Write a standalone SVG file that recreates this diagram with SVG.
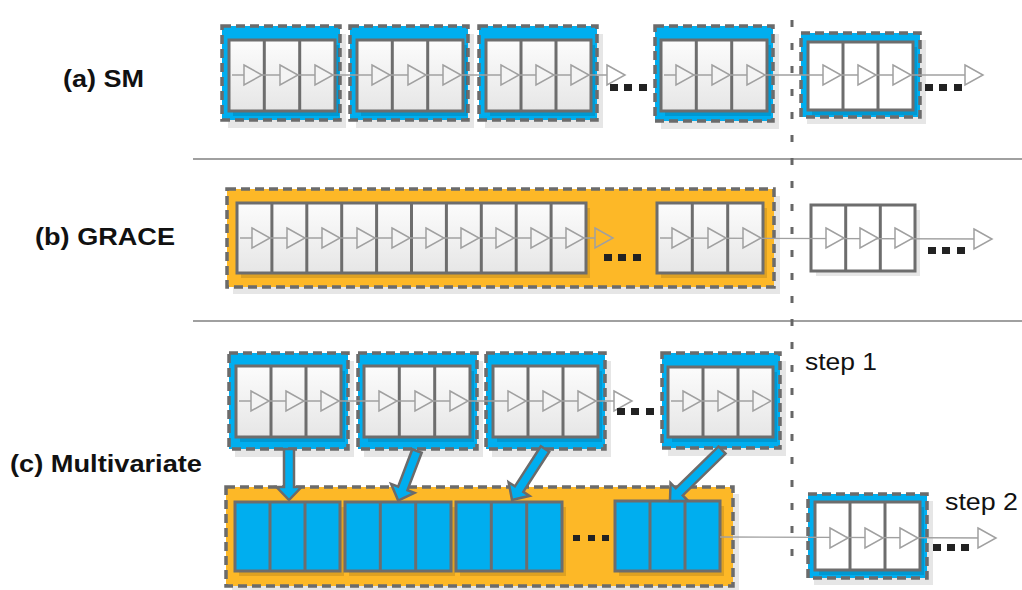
<svg xmlns="http://www.w3.org/2000/svg" xmlns:xlink="http://www.w3.org/1999/xlink" width="1022" height="590" viewBox="0 0 1022 590">
<style>
.bg{fill:#ffffff}
.shadow{fill:#e6e6e6}
.blue{fill:#00aeef;stroke:#6b6b6b;stroke-width:3.5;stroke-dasharray:9 5}
.orange{fill:#fdb827;stroke:#6b6b6b;stroke-width:3.5;stroke-dasharray:9 5}
.ish{fill:#000;fill-opacity:0.12}
.cell{fill:url(#cg);stroke:#6d6d6d;stroke-width:3}
.wcell{fill:#ffffff;stroke:#6d6d6d;stroke-width:3}
.bcell{fill:#00aeef;stroke:#6d6d6d;stroke-width:3}
.div{stroke:#6d6d6d;stroke-width:3}
.sep{stroke:#a0a0a0;stroke-width:2}
.vdash{stroke:#666;stroke-width:3;stroke-dasharray:7 16}
.wire{stroke:#a0a0a0;stroke-width:1.3;fill:none}
.tri{fill:#f4f4f4;stroke:#a0a0a0;stroke-width:1.5}
.dot{fill:#222}
.barrow{fill:#00aeef;stroke:#6b6b6b;stroke-width:2.5;stroke-linejoin:miter}
.lbl{font-family:"Liberation Sans",Arial,sans-serif;font-weight:bold;font-size:24px;fill:#111}
.stp{font-family:"Liberation Sans",Arial,sans-serif;font-size:24px;fill:#111}
</style>
<defs>
<linearGradient id="cg" x1="0" y1="0" x2="0" y2="1">
<stop offset="0" stop-color="#fcfcfc"/>
<stop offset="1" stop-color="#e6e6e6"/>
</linearGradient>
<path id="t" d="M-18,-10 L0,0 L-18,10 Z"/>
</defs>
<rect class="bg" x="0" y="0" width="1022" height="590"/>

<g id="separators">
<line class="sep" x1="193" y1="159" x2="1022" y2="159"/>
<line class="sep" x1="193" y1="321" x2="1022" y2="321"/>
</g>

<g id="labels">
<text class="lbl" x="63" y="87" textLength="81" lengthAdjust="spacingAndGlyphs">(a) SM</text>
<text class="lbl" x="35" y="245" textLength="140" lengthAdjust="spacingAndGlyphs">(b) GRACE</text>
<text class="lbl" x="10" y="472" textLength="192" lengthAdjust="spacingAndGlyphs">(c) Multivariate</text>
<text class="stp" x="805" y="370" textLength="72" lengthAdjust="spacingAndGlyphs">step 1</text>
<text class="stp" x="945" y="510" textLength="73" lengthAdjust="spacingAndGlyphs">step 2</text>
</g>

<!-- Row (a) -->
<g id="a1">
<rect class="shadow" x="228" y="34" width="118" height="94"/>
<rect class="blue" x="222" y="26" width="118" height="94"/>
<rect class="ish" x="233" y="45" width="106" height="71"/>
<rect class="cell" x="229" y="40" width="106" height="71"/>
<line class="div" x1="264.3" y1="40" x2="264.3" y2="111"/><line class="div" x1="299.7" y1="40" x2="299.7" y2="111"/>
</g>
<g id="a2">
<rect class="shadow" x="356" y="34" width="118" height="94"/>
<rect class="blue" x="350" y="26" width="118" height="94"/>
<rect class="ish" x="361" y="45" width="106" height="71"/>
<rect class="cell" x="357" y="40" width="106" height="71"/>
<line class="div" x1="392.3" y1="40" x2="392.3" y2="111"/><line class="div" x1="427.7" y1="40" x2="427.7" y2="111"/>
</g>
<g id="a3">
<rect class="shadow" x="485" y="34" width="118" height="94"/>
<rect class="blue" x="479" y="26" width="118" height="94"/>
<rect class="ish" x="490" y="45" width="105" height="71"/>
<rect class="cell" x="486" y="40" width="105" height="71"/>
<line class="div" x1="521" y1="40" x2="521" y2="111"/><line class="div" x1="556" y1="40" x2="556" y2="111"/>
</g>
<g id="a4">
<rect class="shadow" x="661" y="34" width="118" height="95"/>
<rect class="blue" x="655" y="26" width="118" height="95"/>
<rect class="ish" x="665" y="45" width="106" height="71"/>
<rect class="cell" x="661" y="40" width="106" height="71"/>
<line class="div" x1="696.3" y1="40" x2="696.3" y2="111"/><line class="div" x1="731.7" y1="40" x2="731.7" y2="111"/>
</g>
<g id="a5">
<rect class="shadow" x="807" y="40" width="119" height="84"/>
<rect class="blue" x="801" y="33" width="119" height="84"/>
<rect class="ish" x="812" y="47" width="105" height="68"/>
<rect class="wcell" x="808" y="42" width="105" height="68"/>
<line class="div" x1="843" y1="42" x2="843" y2="110"/><line class="div" x1="878" y1="42" x2="878" y2="110"/>
</g>

<!-- Row (b) -->
<g id="b-container">
<rect class="shadow" x="233" y="196" width="547" height="98"/>
<rect class="orange" x="227" y="189" width="547" height="98"/>
</g>
<g id="b-long">
<rect class="ish" x="241" y="208" width="349" height="70"/>
<rect class="cell" x="237" y="203" width="349" height="70"/>
<line class="div" x1="271.9" y1="203" x2="271.9" y2="273"/>
<line class="div" x1="306.8" y1="203" x2="306.8" y2="273"/>
<line class="div" x1="341.7" y1="203" x2="341.7" y2="273"/>
<line class="div" x1="376.6" y1="203" x2="376.6" y2="273"/>
<line class="div" x1="411.5" y1="203" x2="411.5" y2="273"/>
<line class="div" x1="446.4" y1="203" x2="446.4" y2="273"/>
<line class="div" x1="481.3" y1="203" x2="481.3" y2="273"/>
<line class="div" x1="516.2" y1="203" x2="516.2" y2="273"/>
<line class="div" x1="551.1" y1="203" x2="551.1" y2="273"/>
</g>
<g id="b-last">
<rect class="ish" x="661" y="208" width="106" height="70"/>
<rect class="cell" x="657" y="203" width="106" height="70"/>
<line class="div" x1="692.3" y1="203" x2="692.3" y2="273"/><line class="div" x1="727.7" y1="203" x2="727.7" y2="273"/>
</g>
<g id="b-right">
<rect class="shadow" x="816" y="210" width="104" height="66"/>
<rect class="wcell" x="811" y="205" width="104" height="66"/>
<line class="div" x1="845.7" y1="205" x2="845.7" y2="271"/><line class="div" x1="880.3" y1="205" x2="880.3" y2="271"/>
</g>

<!-- Row (c) top -->
<g id="c1">
<rect class="shadow" x="235" y="361" width="119" height="96"/>
<rect class="blue" x="229" y="353" width="119" height="96"/>
<rect class="ish" x="240" y="371" width="105" height="71"/>
<rect class="cell" x="236" y="366" width="105" height="71"/>
<line class="div" x1="271" y1="366" x2="271" y2="437"/><line class="div" x1="306" y1="366" x2="306" y2="437"/>
</g>
<g id="c2">
<rect class="shadow" x="364" y="361" width="119" height="96"/>
<rect class="blue" x="358" y="353" width="119" height="96"/>
<rect class="ish" x="368" y="371" width="106" height="71"/>
<rect class="cell" x="364" y="366" width="106" height="71"/>
<line class="div" x1="399.3" y1="366" x2="399.3" y2="437"/><line class="div" x1="434.7" y1="366" x2="434.7" y2="437"/>
</g>
<g id="c3">
<rect class="shadow" x="492" y="361" width="119" height="96"/>
<rect class="blue" x="486" y="353" width="119" height="96"/>
<rect class="ish" x="497" y="371" width="105" height="71"/>
<rect class="cell" x="493" y="366" width="105" height="71"/>
<line class="div" x1="528" y1="366" x2="528" y2="437"/><line class="div" x1="563" y1="366" x2="563" y2="437"/>
</g>
<g id="c4">
<rect class="shadow" x="668" y="361" width="118" height="95"/>
<rect class="blue" x="662" y="353" width="118" height="95"/>
<rect class="ish" x="672" y="372" width="105" height="70"/>
<rect class="cell" x="668" y="367" width="105" height="70"/>
<line class="div" x1="703" y1="367" x2="703" y2="437"/><line class="div" x1="738" y1="367" x2="738" y2="437"/>
</g>

<!-- Row (c) bottom -->
<g id="c-container">
<rect class="shadow" x="232" y="494" width="507" height="96"/>
<rect class="orange" x="226" y="487" width="507" height="99"/>
</g>
<g id="m1">
<rect class="ish" x="239" y="507" width="105" height="69"/>
<rect class="bcell" x="235" y="502" width="105" height="69"/>
<line class="div" x1="270" y1="502" x2="270" y2="571"/><line class="div" x1="305" y1="502" x2="305" y2="571"/>
</g>
<g id="m2">
<rect class="ish" x="349" y="507" width="106" height="69"/>
<rect class="bcell" x="345" y="502" width="106" height="69"/>
<line class="div" x1="380.3" y1="502" x2="380.3" y2="571"/><line class="div" x1="415.7" y1="502" x2="415.7" y2="571"/>
</g>
<g id="m3">
<rect class="ish" x="460" y="507" width="106" height="69"/>
<rect class="bcell" x="456" y="502" width="106" height="69"/>
<line class="div" x1="491.3" y1="502" x2="491.3" y2="571"/><line class="div" x1="526.7" y1="502" x2="526.7" y2="571"/>
</g>
<g id="m4">
<rect class="ish" x="619" y="506" width="105" height="70"/>
<rect class="bcell" x="615" y="501" width="105" height="70"/>
<line class="div" x1="650" y1="501" x2="650" y2="571"/><line class="div" x1="685" y1="501" x2="685" y2="571"/>
</g>
<g id="c-right">
<rect class="shadow" x="814" y="501" width="119" height="84"/>
<rect class="blue" x="808" y="494" width="119" height="84"/>
<rect class="ish" x="819" y="507" width="105" height="68"/>
<rect class="wcell" x="815" y="502" width="105" height="68"/>
<line class="div" x1="850" y1="502" x2="850" y2="570"/><line class="div" x1="885" y1="502" x2="885" y2="570"/>
</g>

<g id="vline">
<line class="vdash" x1="792" y1="20" x2="792" y2="568"/>
</g>

<g id="connectors">
<!-- row a -->
<line class="wire" x1="232" y1="75" x2="620" y2="75"/>
<line class="wire" x1="664" y1="75" x2="978" y2="75"/>
<use href="#t" xlink:href="#t" class="tri" x="262" y="75"/><use href="#t" xlink:href="#t" class="tri" x="298" y="75"/><use href="#t" xlink:href="#t" class="tri" x="333" y="75"/>
<use href="#t" xlink:href="#t" class="tri" x="390" y="75"/><use href="#t" xlink:href="#t" class="tri" x="426" y="75"/><use href="#t" xlink:href="#t" class="tri" x="461" y="75"/>
<use href="#t" xlink:href="#t" class="tri" x="519" y="75"/><use href="#t" xlink:href="#t" class="tri" x="554" y="75"/><use href="#t" xlink:href="#t" class="tri" x="589" y="75"/>
<use href="#t" xlink:href="#t" class="tri" x="625" y="75" style="fill:#fff"/>
<use href="#t" xlink:href="#t" class="tri" x="694" y="75"/><use href="#t" xlink:href="#t" class="tri" x="730" y="75"/><use href="#t" xlink:href="#t" class="tri" x="765" y="75"/>
<use href="#t" xlink:href="#t" class="tri" x="841" y="75" style="fill:#fff"/><use href="#t" xlink:href="#t" class="tri" x="876" y="75" style="fill:#fff"/><use href="#t" xlink:href="#t" class="tri" x="911" y="75" style="fill:#fff"/>
<use href="#t" xlink:href="#t" class="tri" x="983" y="75" style="fill:#fff"/>
<!-- row b -->
<line class="wire" x1="240" y1="238" x2="608" y2="238"/>
<line class="wire" x1="660" y1="238" x2="987" y2="239"/>
<use href="#t" xlink:href="#t" class="tri" x="270" y="238"/><use href="#t" xlink:href="#t" class="tri" x="305" y="238"/><use href="#t" xlink:href="#t" class="tri" x="340" y="238"/>
<use href="#t" xlink:href="#t" class="tri" x="375" y="238"/><use href="#t" xlink:href="#t" class="tri" x="410" y="238"/><use href="#t" xlink:href="#t" class="tri" x="444" y="238"/>
<use href="#t" xlink:href="#t" class="tri" x="479" y="238"/><use href="#t" xlink:href="#t" class="tri" x="514" y="238"/><use href="#t" xlink:href="#t" class="tri" x="549" y="238"/>
<use href="#t" xlink:href="#t" class="tri" x="584" y="238"/>
<use href="#t" xlink:href="#t" class="tri" x="613" y="238" style="fill:#fdb827"/>
<use href="#t" xlink:href="#t" class="tri" x="690" y="238"/><use href="#t" xlink:href="#t" class="tri" x="726" y="238"/><use href="#t" xlink:href="#t" class="tri" x="761" y="238"/>
<use href="#t" xlink:href="#t" class="tri" x="844" y="238" style="fill:#fff"/><use href="#t" xlink:href="#t" class="tri" x="878" y="238" style="fill:#fff"/><use href="#t" xlink:href="#t" class="tri" x="913" y="238" style="fill:#fff"/>
<use href="#t" xlink:href="#t" class="tri" x="992" y="239" style="fill:#fff"/>
<!-- row c top -->
<line class="wire" x1="239" y1="401" x2="627" y2="401"/>
<line class="wire" x1="671" y1="401" x2="770" y2="401"/>
<use href="#t" xlink:href="#t" class="tri" x="269" y="401"/><use href="#t" xlink:href="#t" class="tri" x="304" y="401"/><use href="#t" xlink:href="#t" class="tri" x="339" y="401"/>
<use href="#t" xlink:href="#t" class="tri" x="397" y="401"/><use href="#t" xlink:href="#t" class="tri" x="433" y="401"/><use href="#t" xlink:href="#t" class="tri" x="468" y="401"/>
<use href="#t" xlink:href="#t" class="tri" x="526" y="401"/><use href="#t" xlink:href="#t" class="tri" x="561" y="401"/><use href="#t" xlink:href="#t" class="tri" x="596" y="401"/>
<use href="#t" xlink:href="#t" class="tri" x="632" y="401" style="fill:#fff"/>
<use href="#t" xlink:href="#t" class="tri" x="701" y="401"/><use href="#t" xlink:href="#t" class="tri" x="736" y="401"/><use href="#t" xlink:href="#t" class="tri" x="771" y="401"/>
<!-- row c bottom -->
<line class="wire" x1="720" y1="537" x2="990" y2="538"/>
<use href="#t" xlink:href="#t" class="tri" x="848" y="538" style="fill:#fff"/><use href="#t" xlink:href="#t" class="tri" x="883" y="538" style="fill:#fff"/><use href="#t" xlink:href="#t" class="tri" x="918" y="538" style="fill:#fff"/>
<use href="#t" xlink:href="#t" class="tri" x="996" y="538" style="fill:#fff"/>
<!-- block arrows -->
<path class="barrow" transform="translate(289,449) rotate(90)" d="M0,-5 L38,-5 L38,-12.5 L51,0 L38,12.5 L38,5 L0,5 Z"/>
<path class="barrow" transform="translate(417,451) rotate(110.8)" d="M0,-5 L40,-5 L40,-12.5 L53,0 L40,12.5 L40,5 L0,5 Z"/>
<path class="barrow" transform="translate(545,449) rotate(122.9)" d="M0,-5 L47.7,-5 L47.7,-12.5 L60.7,0 L47.7,12.5 L47.7,5 L0,5 Z"/>
<path class="barrow" transform="translate(722,450) rotate(135.6)" d="M0,-5 L59.8,-5 L59.8,-12.5 L72.8,0 L59.8,12.5 L59.8,5 L0,5 Z"/>
</g>

<g id="ellipses">
<rect class="dot" x="610" y="84" width="8" height="7"/><rect class="dot" x="624" y="84" width="8" height="7"/><rect class="dot" x="639" y="84" width="8" height="7"/>
<rect class="dot" x="925" y="84" width="8" height="7"/><rect class="dot" x="939" y="84" width="8" height="7"/><rect class="dot" x="954" y="84" width="8" height="7"/>
<rect class="dot" x="604" y="254" width="8" height="7"/><rect class="dot" x="618" y="254" width="8" height="7"/><rect class="dot" x="633" y="254" width="8" height="7"/>
<rect class="dot" x="928" y="247" width="8" height="7"/><rect class="dot" x="942" y="247" width="8" height="7"/><rect class="dot" x="957" y="247" width="8" height="7"/>
<rect class="dot" x="617" y="408" width="8" height="7"/><rect class="dot" x="631" y="408" width="8" height="7"/><rect class="dot" x="646" y="408" width="8" height="7"/>
<rect class="dot" x="573" y="535" width="7" height="6"/><rect class="dot" x="588" y="535" width="7" height="6"/><rect class="dot" x="602" y="535" width="7" height="6"/>
<rect class="dot" x="933" y="544" width="8" height="7"/><rect class="dot" x="947" y="544" width="8" height="7"/><rect class="dot" x="961" y="544" width="8" height="7"/>
</g>
</svg>
